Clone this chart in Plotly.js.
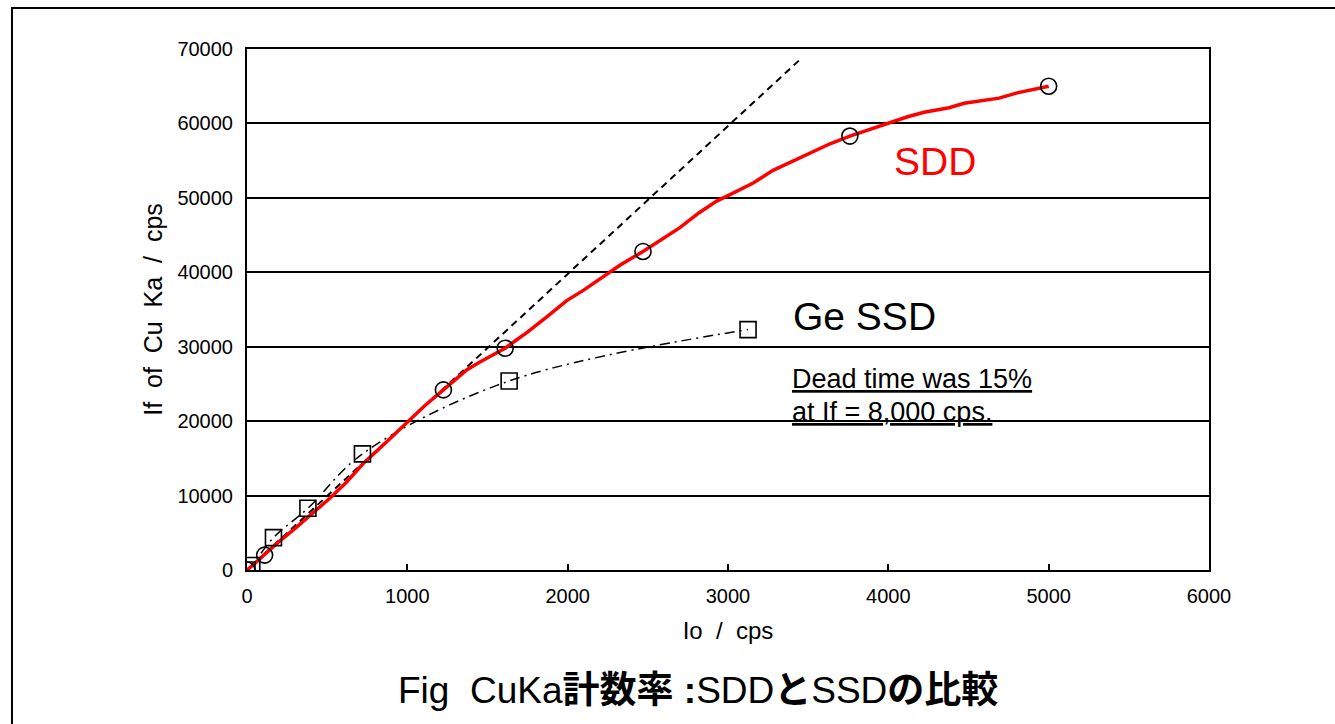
<!DOCTYPE html>
<html>
<head>
<meta charset="utf-8">
<script src="https://cdn.plot.ly/plotly-3.0.1.min.js"></script>
<style>
  html, body { margin: 0; padding: 0; background: #fff; }
  #chart { width: 1335px; height: 724px; }
</style>
</head>
<body>
<div id="chart"></div>
<script>
// SDD measured count-rate curve (Io, If)
const sddCurveIo = [0, 40, 110, 190, 300, 410, 520, 620, 725, 850, 1000, 1110, 1225, 1300, 1372, 1450, 1530, 1610, 1680, 1745, 1870, 1994, 2100, 2200, 2330, 2470, 2577, 2700, 2820, 2932, 3000, 3157, 3281, 3381, 3512, 3640, 3760, 3880, 4005, 4120, 4223, 4379, 4473, 4580, 4691, 4803, 4900, 5000];
const sddCurveIf = [0, 700, 2100, 3650, 5600, 7700, 9700, 11800, 14300, 16800, 19900, 22100, 24200, 25600, 26900, 27900, 28800, 29800, 30900, 31900, 34000, 36200, 37600, 39100, 41000, 42800, 44300, 46000, 48000, 49600, 50300, 52000, 53700, 54700, 56000, 57300, 58300, 59200, 60100, 60900, 61500, 62100, 62700, 63000, 63400, 64100, 64500, 65000];
// SDD marked points
const sddIo = [0, 110, 1225, 1610, 2470, 3760, 5000];
const sddIf = [0, 2000, 24200, 29800, 42800, 58300, 65000];
// Ge SSD marked points
const geIo = [0, 30, 165, 380, 720, 1635, 3125];
const geIf = [0, 600, 4350, 8300, 15600, 25400, 32300];
// ideal linear response line
const idealIo = [0, 3460];
const idealIf = [0, 68800];
// axis ticks
const xTicks = [0, 1000, 2000, 3000, 4000, 5000, 6000];
const yTicks = [0, 10000, 20000, 30000, 40000, 50000, 60000, 70000];

const FONT = 'Liberation Sans, Arial, sans-serif';

const traces = [
  { x: idealIo, y: idealIf, mode: 'lines', line: { color: '#000', width: 2, dash: '7px,5px' }, hoverinfo: 'skip', showlegend: false },
  { x: geIo, y: geIf, mode: 'lines', line: { color: '#000', width: 1.5, dash: '10px,5px,2px,5px', shape: 'spline', smoothing: 1 }, showlegend: false },
  { x: sddCurveIo, y: sddCurveIf, mode: 'lines', line: { color: '#ff0000', width: 3.5 }, showlegend: false },
  { x: sddIo, y: sddIf, mode: 'markers', marker: { symbol: 'circle-open', size: 16, color: '#000', line: { color: '#000', width: 1.6 } }, showlegend: false },
  { x: geIo, y: geIf, mode: 'markers', marker: { symbol: 'square-open', size: 16, color: '#000', line: { color: '#000', width: 1.6 } }, showlegend: false }
];

const layout = {
  width: 1335, height: 724,
  margin: { l: 247, r: 126, t: 49, b: 154, pad: 0 },
  paper_bgcolor: '#fff', plot_bgcolor: '#fff',
  font: { family: FONT, color: '#000', size: 20 },
  showlegend: false,
  xaxis: {
    range: [0, 6000], tickvals: xTicks, ticktext: xTicks.map(String),
    showgrid: false, zeroline: false,
    showline: true, mirror: true, linecolor: '#000', linewidth: 2,
    ticks: 'inside', ticklen: 6, tickwidth: 2, tickcolor: '#000',
    tickfont: { family: FONT, size: 20, color: '#000' },
    ticklabelstandoff: 7,
    title: { text: 'Io\u00a0\u00a0/\u00a0\u00a0cps', font: { family: FONT, size: 24, color: '#000' }, standoff: 16 }
  },
  yaxis: {
    range: [0, 70000], tickvals: yTicks, ticktext: yTicks.map(String),
    showgrid: true, gridcolor: '#000', gridwidth: 2, zeroline: false,
    showline: true, mirror: true, linecolor: '#000', linewidth: 2,
    ticks: '', tickfont: { family: FONT, size: 20, color: '#000' },
    ticklabelstandoff: 8,
    title: { text: 'If\u00a0\u00a0of\u00a0\u00a0Cu\u00a0\u00a0Ka\u00a0\u00a0/\u00a0\u00a0cps', font: { family: FONT, size: 25, color: '#000' }, standoff: 8 }
  },
  annotations: [
    { x: 4292, y: 54840, xref: 'x', yref: 'y', text: 'SDD', showarrow: false, xanchor: 'center', yanchor: 'middle', font: { family: FONT, size: 39, color: '#ff0000' } },
    { x: 3390, y: 34000, xref: 'x', yref: 'y', text: 'Ge SSD', showarrow: false, xanchor: 'left', yanchor: 'middle', font: { family: FONT, size: 39, color: '#000' } },
    { x: 3385, y: 25700, xref: 'x', yref: 'y', text: 'Dead time was 15%', showarrow: false, xanchor: 'left', yanchor: 'middle', font: { family: FONT, size: 27, color: '#000', lineposition: 'under' } },
    { x: 3385, y: 21200, xref: 'x', yref: 'y', text: 'at If = 8,000 cps.', showarrow: false, xanchor: 'left', yanchor: 'middle', font: { family: FONT, size: 27, color: '#000', lineposition: 'under' } },
    { x: 0.469, y: -0.232, xref: 'paper', yref: 'paper', text: 'Fig\u00a0\u00a0CuKa<b>計数率 :</b>SDD<b>と</b>SSD<b>の比較</b>', showarrow: false, xanchor: 'center', yanchor: 'middle', font: { family: 'Liberation Sans, Noto Sans CJK JP, sans-serif', size: 37, color: '#000' } }
  ],
  shapes: [
    { type: 'rect', xref: 'paper', yref: 'paper', x0: -0.2443, x1: 1.15, y0: -0.35, y1: 1.0787, line: { color: '#000', width: 2 }, fillcolor: 'rgba(0,0,0,0)', layer: 'above' }
  ]
};

Plotly.newPlot('chart', traces, layout, { staticPlot: true, displayModeBar: false });
</script>
</body>
</html>
